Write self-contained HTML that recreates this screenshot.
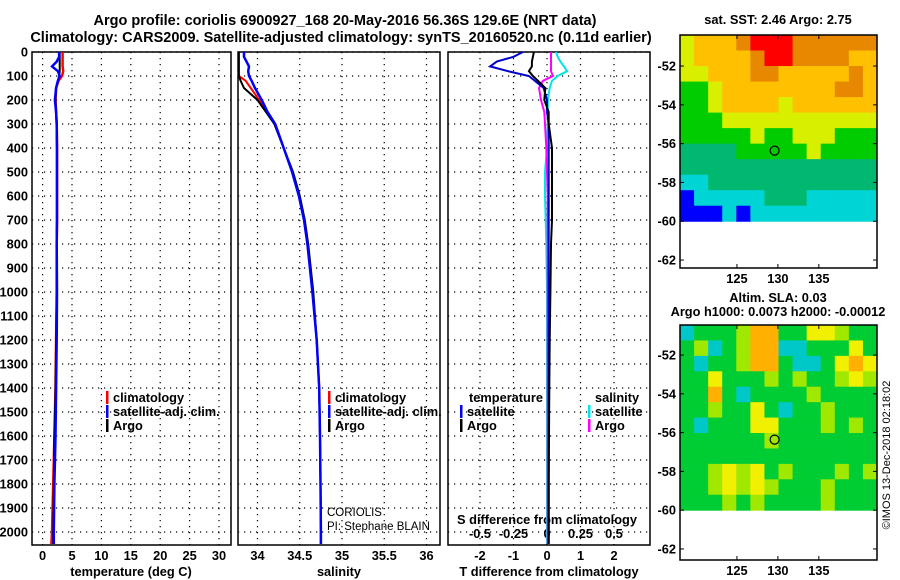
<!DOCTYPE html>
<html><head><meta charset="utf-8"><style>
body{margin:0;background:#fff;}
svg{display:block;font-family:"Liberation Sans",sans-serif;}
.t{font-weight:bold;font-size:14.5px;}
.k{font-weight:bold;font-size:12.8px;}
</style></head><body>
<svg id="fig" width="900" height="580" viewBox="0 0 900 580" xmlns="http://www.w3.org/2000/svg">
<text class="t" x="345" y="25" text-anchor="middle">Argo profile: coriolis 6900927_168 20-May-2016 56.36S 129.6E (NRT data)</text>
<text class="t" x="341" y="42" text-anchor="middle">Climatology: CARS2009. Satellite-adjusted climatology: synTS_20160520.nc (0.11d earlier)</text>
<text class="k" x="778" y="24" text-anchor="middle">sat. SST: 2.46 Argo: 2.75</text>
<text class="k" x="778" y="302" text-anchor="middle">Altim. SLA: 0.03</text>
<text class="k" x="778" y="316" text-anchor="middle" font-size="12.3">Argo h1000: 0.0073 h2000: -0.00012</text>
<text x="890" y="455" font-size="11" text-anchor="middle" transform="rotate(-90 890 455)">©IMOS 13-Dec-2018 02:18:02</text>
</svg>
<script>
const depths=[0,20,40,60,80,100,120,150,200,250,300,400,500,600,700,800,1000,1200,1400,1600,1800,2000,2050];
const argoT=[2.9,2.9,2.9,2.9,2.9,2.8,2.6,2.3,2.2,2.3,2.4,2.45,2.45,2.45,2.45,2.4,2.4,2.3,2.2,2.0,1.9,1.8,1.8];
const climT=[3.4,3.4,3.4,3.4,3.5,3.3,2.7,2.3,2.2,2.3,2.4,2.45,2.45,2.45,2.45,2.4,2.4,2.3,2.2,2.0,1.8,1.6,1.5];
const satT=[2.8,2.8,2.4,1.6,2.6,2.9,2.6,2.3,2.1,2.3,2.4,2.45,2.45,2.45,2.45,2.4,2.45,2.4,2.3,2.2,2.0,1.9,1.9];
const argoS=[33.78,33.78,33.78,33.78,33.78,33.78,33.8,33.84,34.0,34.1,34.2,34.31,34.42,34.5,34.56,34.6,34.66,34.7,34.73,34.74,34.745,34.75,34.75];
const climS=[33.77,33.77,33.77,33.77,33.77,33.78,33.86,33.92,34.02,34.11,34.2,34.31,34.41,34.49,34.55,34.59,34.65,34.7,34.73,34.74,34.745,34.75,34.75];
const satS=[33.84,33.84,33.87,33.9,33.89,33.9,33.93,33.97,34.05,34.12,34.21,34.31,34.41,34.49,34.55,34.59,34.65,34.7,34.73,34.74,34.745,34.75,34.75];
const dTsat=[-0.72,-1.0,-1.5,-1.7,-1.16,-0.54,-0.36,-0.1,0.0,0.0,0.05,0.05,0.05,0.05,0.05,0.05,0.05,0.05,0.05,0.05,0.05,0.05,0.05];
const dTargo=[-0.39,-0.42,-0.45,-0.45,-0.54,-0.42,-0.27,-0.05,-0.08,0.05,0.05,0.15,0.15,0.15,0.15,0.12,0.1,0.08,0.07,0.06,0.05,0.05,0.05];
const dSsat=[0.067,0.08,0.1,0.127,0.15,0.08,0.037,0.02,0.007,0.005,0.005,0.0,-0.015,-0.015,-0.01,-0.005,0,0,0,0,0,0,0];
const dSargo=[0.03,0.03,0.03,0.03,0.03,0.045,-0.03,-0.06,-0.045,-0.02,-0.015,-0.005,0,0.005,0.005,0.005,0.005,0.005,0.005,0.005,0.005,0.005,0.005];
const tTicks=[0,5,10,15,20,25,30];
const sTicks=[34,34.5,35,35.5,36];
const dTTicks=[-2,-1,0,1,2];
const dSTicks=[-0.5,-0.25,0,0.25,0.5];
const depthTicks=[0,100,200,300,400,500,600,700,800,900,1000,1100,1200,1300,1400,1500,1600,1700,1800,1900,2000];
const latTicks=[-52,-54,-56,-58,-60,-62];
const lonTicks=[125,130,135];
const sstGrid=[
[4,5,5,5,6,7,7,7,6,6,6,6,6,6],[4,5,5,5,5,6,7,7,6,6,6,6,5,5],[4,4,5,5,5,6,6,5,5,5,5,5,6,5],
[3,3,4,5,5,5,5,5,5,5,5,6,6,5],[3,3,4,5,5,5,5,4,5,5,5,5,5,5],[3,3,3,4,4,4,4,4,4,4,4,4,4,4],
[3,3,3,3,3,4,3,3,4,4,4,3,3,3],[2,2,2,2,3,3,3,3,3,4,3,3,3,3],[2,2,2,2,2,2,2,2,2,2,2,2,2,2],
[1,1,2,2,2,2,2,2,2,2,2,2,2,2],[0,1,1,1,1,1,2,2,2,1,1,1,1,1],[0,0,0,1,0,1,1,1,1,1,1,1,1,1]];
const slaGrid=[
[1,2,2,2,3,5,5,2,2,4,4,3,2,2],[2,3,1,2,3,5,5,1,1,2,2,2,4,2],[2,1,2,2,3,5,5,2,1,1,2,4,5,4],
[2,2,4,2,2,2,3,2,3,2,2,3,4,3],[2,2,5,2,1,2,2,2,2,3,2,2,2,2],[2,2,3,2,2,4,2,1,2,2,3,2,2,2],
[2,1,2,2,2,4,4,2,2,2,3,2,3,2],[2,2,2,2,2,2,3,2,2,2,2,2,2,2],[2,2,2,2,2,2,2,2,2,2,2,2,2,2],
[2,2,3,4,3,4,2,3,2,2,2,3,2,3],[2,2,3,4,3,4,3,2,2,2,3,2,2,2],[2,2,2,3,2,3,2,2,2,2,3,2,2,2]];
const floatLon=129.6, floatLat=-56.36;

const svg=document.getElementById('fig');
const NS='http://www.w3.org/2000/svg';
function mk(tag,at,parent){const e=document.createElementNS(NS,tag);for(const k in at)e.setAttribute(k,at[k]);(parent||svg).appendChild(e);return e;}
const yD=d=>52+d*0.24;
const PT=52,PB=545;
const panels=[
 {x0:32,x1:231,sx:v=>42.6+v*5.88,name:'temperature'},
 {x0:238,x1:440,sx:v=>257.5+(v-34)*84.5,name:'salinity'},
 {x0:448,x1:650,sx:v=>547+v*33.5,name:'difference'}];
const sxS=v=>547+v*134;
function frame(p,ticks,fmt,ty){
 ticks.forEach(t=>{const x=p.sx(t);
  const g=mk('line',{x1:x,x2:x,y1:PT,y2:PB,stroke:'#000','stroke-dasharray':'1.2,4.8','stroke-width':1.2});
  
  
  const l=mk('text',{x:x,y:ty,class:'k','text-anchor':'middle'});l.textContent=fmt(t);
  
  });
 depthTicks.forEach(d=>{const y=yD(d);
  const g=mk('line',{x1:p.x0,x2:p.x1,y1:y,y2:y,stroke:'#000','stroke-dasharray':'1.2,4.8','stroke-width':1.2});
  
  });
 const r=mk('rect',{x:p.x0,y:PT,width:p.x1-p.x0,height:PB-PT,fill:'none',stroke:'#000','stroke-width':1.5});
 
 
}
frame(panels[0],tTicks,t=>t,560);
frame(panels[1],sTicks,t=>t,560);
frame(panels[2],dTTicks,t=>t,560);
dSTicks.forEach(t=>{const l=mk('text',{x:sxS(t),y:538,class:'k','text-anchor':'middle'});l.textContent=t;
 
 });
depthTicks.forEach(d=>{const l=mk('text',{x:28,y:yD(d)+4.5,class:'k','text-anchor':'end'});l.textContent=d;
 
 });
[['temperature (deg C)',131],['salinity',339],['T difference from climatology',549]].forEach(([s,x])=>{
 const l=mk('text',{x:x,y:576,class:'k','text-anchor':'middle'});l.textContent=s;
 
 });
const st=mk('text',{x:547,y:524,class:'k','text-anchor':'middle'});st.textContent='S difference from climatology';


function line(vals,sx,col,w,name){
 const pts=vals.map((v,i)=>sx(v).toFixed(1)+','+yD(depths[i]).toFixed(1)).join(' ');
 const e=mk('polyline',{points:pts,fill:'none',stroke:col,'stroke-width':w});
 
 
}
line(climT,panels[0].sx,'#ff0000',2.5,'temp-climatology-line');
line(argoT,panels[0].sx,'#000',2,'temp-argo-line');
line(satT,panels[0].sx,'#0000ff',2.5,'temp-satellite-line');
line(climS,panels[1].sx,'#ff0000',2,'sal-climatology-line');
line(argoS,panels[1].sx,'#000',2,'sal-argo-line');
line(satS,panels[1].sx,'#0000ff',2.5,'sal-satellite-line');
line(dSsat,sxS,'#00e5e5',2,'sdiff-satellite-line');
line(dSargo,sxS,'#ff00ff',2,'sdiff-argo-line');
line(dTsat,panels[2].sx,'#0000cc',2,'tdiff-satellite-line');
line(dTargo,panels[2].sx,'#000',2,'tdiff-argo-line');
function leg(x,y,col,txt,name){
 if(col){const m=mk('rect',{x:x,y:y-11,width:2.5,height:13,fill:col});
  
  }
 const t=mk('text',{x:x+7,y:y,class:'k'});t.textContent=txt;
 
 
}
leg(106,402,'#ff0000','climatology','legend-climatology');
leg(106,416,'#0000ff','satellite-adj. clim.','legend-satellite');
leg(106,430,'#000','Argo','legend-argo');
leg(328,402,'#ff0000','climatology','legend2-climatology');
leg(328,416,'#0000ff','satellite-adj. clim.','legend2-satellite');
leg(328,430,'#000','Argo','legend2-argo');
leg(462,402,null,'temperature','legend3-temperature-header');
leg(460,416,'#0000ff','satellite','legend3-t-satellite');
leg(460,430,'#000','Argo','legend3-t-argo');
leg(588,402,null,'salinity','legend3-salinity-header');
leg(588,416,'#00e5e5','satellite','legend3-s-satellite');
leg(588,430,'#ff00ff','Argo','legend3-s-argo');
[['CORIOLIS',516],['PI: Stephane BLAIN',530]].forEach(([s,y])=>{const t=mk('text',{x:327,y:y,'font-size':'11.5'});t.textContent=s;
 
 });

const sstCols=['#0000ff','#00d4d4','#00b870','#00cc00','#d8f000','#ffc000','#e88800','#ff0000'];
const slaCols=['#0000ff','#00c8c8','#00cc33','#a0e800','#f0f000','#ffb000'];
function map(grid,cols,top,bottom,latTop,latBot,name){
 const x0=680,x1=877,lonA=118.05,lonB=142.1;
 const sx=lon=>x0+(lon-lonA)/(lonB-lonA)*(x1-x0);
 const sy=lat=>top+(lat-latTop)/(latBot-latTop)*(bottom-top);
 const dataBot=sy(-60);
 const nr=grid.length,nc=grid[0].length,cw=(x1-x0)/nc,ch=(dataBot-top)/nr;
 grid.forEach((row,r)=>row.forEach((v,c)=>{
  const e=mk('rect',{x:x0+c*cw,y:top+r*ch,width:cw+0.5,height:ch+0.5,fill:cols[v]});
  
  }));
 const f=mk('rect',{x:x0,y:top,width:x1-x0,height:bottom-top,fill:'none',stroke:'#000','stroke-width':1.5});
 
 
 latTicks.forEach(l=>{const y=sy(l);
  mk('line',{x1:x0,x2:x0+4,y1:y,y2:y,stroke:'#000'});mk('line',{x1:x1-4,x2:x1,y1:y,y2:y,stroke:'#000'});
  const t=mk('text',{x:x0-4,y:y+4.5,class:'k','text-anchor':'end'});t.textContent=l;
  
  });
 lonTicks.forEach(l=>{const x=sx(l);
  mk('line',{x1:x,x2:x,y1:top,y2:top+4,stroke:'#000'});mk('line',{x1:x,x2:x,y1:bottom-4,y2:bottom,stroke:'#000'});
  const t=mk('text',{x:x,y:bottom+15,class:'k','text-anchor':'middle'});t.textContent=l;
  
  });
 const c=mk('circle',{cx:sx(floatLon),cy:sy(floatLat),r:4.5,fill:'none',stroke:'#000','stroke-width':1.2});
 
 
}
map(sstGrid,sstCols,35,268,-50.4,-62.41,'sst-map');
map(slaGrid,slaCols,325,560,-50.45,-62.57,'sla-map');
</script>
</body></html>
